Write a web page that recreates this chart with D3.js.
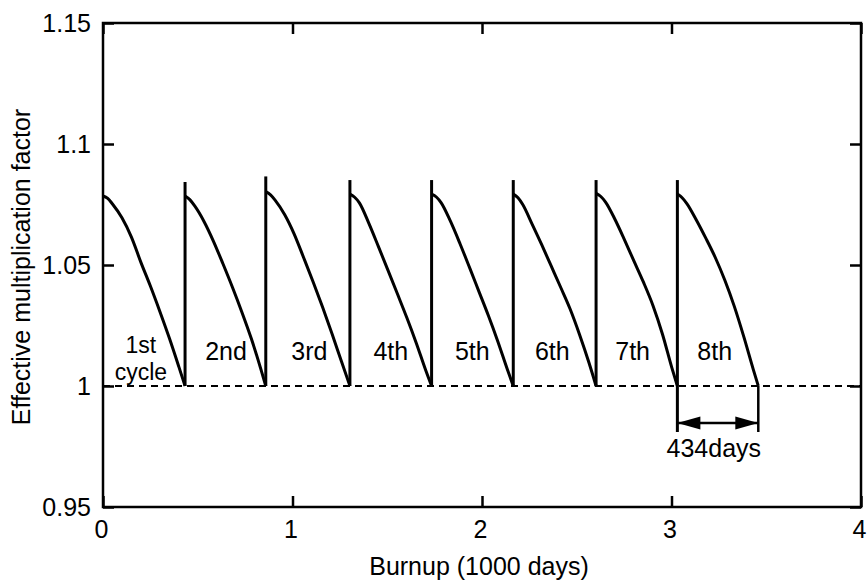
<!DOCTYPE html>
<html>
<head>
<meta charset="utf-8">
<script src="https://cdn.jsdelivr.net/npm/d3@7"></script>
<style>
  html, body { margin: 0; padding: 0; background: #fff; }
  svg { display: block; font-family: "Liberation Sans", Arial, Helvetica, sans-serif; }
</style>
</head>
<body>
<svg id="chart" width="868" height="580"></svg>
<script>
// ---------------- data (days, k_eff) ----------------
const cycleNames = ["1st", "2nd", "3rd", "4th", "5th", "6th", "7th", "8th"];
const cycleStart = [0, 433, 859, 1303, 1734, 2165, 2602, 3031];
const cycleEnd   = [433, 859, 1303, 1734, 2165, 2602, 3031, 3458];
const reloadPeak = [null, 1.0843, 1.0866, 1.0851, 1.0851, 1.0851, 1.0851, 1.0851];
// day offsets inside a cycle (the last point of each cycle is its end, k = 1.000)
const dayOffsets = [0, 25, 50, 100, 150, 200, 250, 300, 350, 400];
const kCycle1 = [1.0785, 1.0775, 1.0752, 1.0695, 1.0615, 1.0511, 1.0413, 1.0308, 1.0198, 1.0080];
const kCycle2 = [1.0785, 1.0770, 1.0745, 1.0680, 1.0598, 1.0505, 1.0408, 1.0305, 1.0195, 1.0070];
const kCycle3 = [1.0803, 1.0790, 1.0767, 1.0708, 1.0628, 1.0530, 1.0430, 1.0325, 1.0215, 1.0100];
const kCycle4 = [1.0793, 1.0780, 1.0757, 1.0672, 1.0577, 1.0480, 1.0382, 1.0283, 1.0178, 1.0065];
const kCycle5 = [1.0793, 1.0781, 1.0758, 1.0680, 1.0588, 1.0490, 1.0390, 1.0290, 1.0183, 1.0068];
const kCycle6 = [1.0793, 1.0778, 1.0750, 1.0668, 1.0584, 1.0496, 1.0408, 1.0318, 1.0212, 1.0095];
const kCycle7 = [1.0796, 1.0783, 1.0760, 1.0688, 1.0604, 1.0516, 1.0429, 1.0333, 1.0215, 1.0075];
const kCycle8 = [1.0793, 1.0778, 1.0754, 1.0686, 1.0611, 1.0531, 1.0438, 1.0330, 1.0205, 1.0070];
const kCycles = [kCycle1, kCycle2, kCycle3, kCycle4, kCycle5, kCycle6, kCycle7, kCycle8];
const kEndOfCycle = 1.0;
const criticalK = 1.0;

// annotation anchors (data units)
const cycleLabelDay = [200, 649, 1089, 1519, 1949, 2371, 2795, 3228];
const cycleLabelK = 1.0107;
const firstLabelK = 1.0135;
const cycleWordK = 1.0025;
const cycleWord = "cycle";
const spanLabel = "434days";
const spanArrowK = 0.9847;
const spanExtK = 0.981;
const spanTextK = 0.9708;

const xTicks = [0, 1000, 2000, 3000, 4000];
const yTicks = [0.95, 1.0, 1.05, 1.1, 1.15];
const xTitle = "Burnup (1000 days)";
const yTitle = "Effective multiplication factor";

// ---------------- layout ----------------
const svg = d3.select("#chart");
const L = 103, R = 861, T = 23, B = 507;
const FS = 25;
const FS_FIRST = 23;

const x = d3.scaleLinear().domain([0, 4000]).range([L, R]);
const y = d3.scaleLinear().domain([0.95, 1.15]).range([B, T]);

// dashed k = 1 line
svg.append("line")
  .attr("x1", x(0)).attr("x2", x(4000))
  .attr("y1", y(criticalK)).attr("y2", y(criticalK))
  .attr("stroke", "#000").attr("stroke-width", 2)
  .attr("stroke-dasharray", "7,5");

// axes
function styleAxis(g, showText) {
  g.select(".domain").remove();
  g.selectAll(".tick line").attr("stroke", "#000").attr("stroke-width", 2.5);
  g.selectAll(".tick text").attr("fill", "#000").style("font-size", FS + "px")
    .style("font-family", '"Liberation Sans", Arial, Helvetica, sans-serif');
  if (!showText) g.selectAll(".tick text").remove();
}
svg.append("g").attr("transform", `translate(0,${B})`)
  .call(d3.axisBottom(x).tickValues(xTicks).tickSize(-11).tickPadding(13).tickFormat(d => d / 1000))
  .call(g => styleAxis(g, true))
  .call(g => g.selectAll(".tick text").attr("dx", -2));
svg.append("g").attr("transform", `translate(0,${T})`)
  .call(d3.axisTop(x).tickValues(xTicks).tickSize(-11))
  .call(g => styleAxis(g, false));
svg.append("g").attr("transform", `translate(${L},0)`)
  .call(d3.axisLeft(y).tickValues(yTicks).tickSize(-11).tickPadding(12).tickFormat(d => String(+d.toFixed(2))))
  .call(g => styleAxis(g, true));
svg.append("g").attr("transform", `translate(${R},0)`)
  .call(d3.axisRight(y).tickValues(yTicks).tickSize(-11))
  .call(g => styleAxis(g, false));

// frame
svg.append("rect").attr("x", L).attr("y", T).attr("width", R - L).attr("height", B - T)
  .attr("fill", "none").attr("stroke", "#000").attr("stroke-width", 2.5);

// curves
const line = d3.line().x(d => x(d[0])).y(d => y(d[1])).curve(d3.curveMonotoneX);
kCycles.forEach((ks, i) => {
  const pts = dayOffsets.map((o, j) => [cycleStart[i] + o, ks[j]]);
  pts.push([cycleEnd[i], kEndOfCycle]);
  svg.append("path").datum(pts).attr("d", line)
    .attr("fill", "none").attr("stroke", "#000").attr("stroke-width", 3)
    .attr("stroke-linejoin", "round");
  if (reloadPeak[i] !== null) {
    const bottomK = (i === kCycles.length - 1) ? spanExtK : kEndOfCycle;
    svg.append("line")
      .attr("x1", x(cycleStart[i])).attr("x2", x(cycleStart[i]))
      .attr("y1", y(bottomK)).attr("y2", y(reloadPeak[i]))
      .attr("stroke", "#000").attr("stroke-width", 3);
  }
});

// cycle labels
const label = svg.append("g").attr("fill", "#000").style("font-size", FS + "px").attr("text-anchor", "middle");
cycleNames.forEach((n, i) => {
  const t = label.append("text").attr("x", x(cycleLabelDay[i])).attr("y", y(i === 0 ? firstLabelK : cycleLabelK)).text(n);
  if (i === 0) t.style("font-size", FS_FIRST + "px");
});
label.append("text").attr("x", x(cycleLabelDay[0])).attr("y", y(cycleWordK))
  .style("font-size", FS_FIRST + "px").text(cycleWord);

// 434 days span
const last = kCycles.length - 1;
const sx0 = x(cycleStart[last]), sx1 = x(cycleEnd[last]);
const ay = y(spanArrowK);
svg.append("line").attr("x1", sx1).attr("x2", sx1).attr("y1", y(criticalK)).attr("y2", y(spanExtK))
  .attr("stroke", "#000").attr("stroke-width", 2.5);
svg.append("line").attr("x1", sx0).attr("x2", sx1).attr("y1", ay).attr("y2", ay)
  .attr("stroke", "#000").attr("stroke-width", 2.5);
const AL = 23, AH = 6.5;
svg.append("path").attr("d", `M${sx0},${ay}L${sx0 + AL},${ay - AH}L${sx0 + AL},${ay + AH}Z`).attr("fill", "#000");
svg.append("path").attr("d", `M${sx1},${ay}L${sx1 - AL},${ay - AH}L${sx1 - AL},${ay + AH}Z`).attr("fill", "#000");
svg.append("text").attr("x", (sx0 + sx1) / 2 - 4).attr("y", y(spanTextK))
  .attr("text-anchor", "middle").style("font-size", FS + "px").attr("fill", "#000").text(spanLabel);

// axis titles
svg.append("text").attr("x", 479).attr("y", 575).attr("text-anchor", "middle")
  .style("font-size", FS + "px").attr("fill", "#000").text(xTitle);
svg.append("text").attr("transform", "translate(30,267) rotate(-90)").attr("text-anchor", "middle")
  .style("font-size", FS + "px").attr("fill", "#000").text(yTitle);
</script>
</body>
</html>
